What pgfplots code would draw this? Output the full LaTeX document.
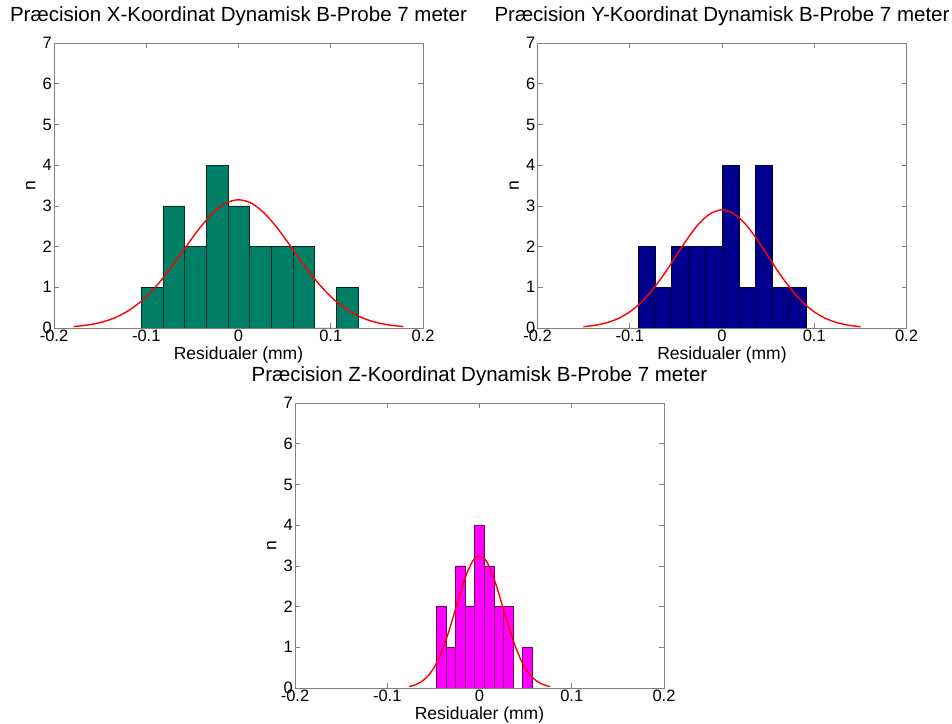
\documentclass[border=0pt]{standalone}
\usepackage{fontspec}
\setmainfont{Liberation Sans}
\usepackage{pgfplots}
\pgfplotsset{compat=1.18}

\definecolor{histX}{RGB}{0,126,102}
\definecolor{histY}{RGB}{0,0,140}
\definecolor{histZ}{RGB}{255,0,255}
\definecolor{frame}{RGB}{128,128,128}

\pgfplotsset{
  histo/.style={
    scale only axis,
    width=369bp, height=285bp,
    anchor=south west,
    xmin=-0.2, xmax=0.2, ymin=0, ymax=7,
    xtick={-0.2,-0.1,0,0.1,0.2},
    ytick={0,1,2,3,4,5,6,7},
    axis line style={frame, line width=0.6bp},
    tick style={frame, line width=0.6bp},
    major tick length=5bp,
    tick align=inside,
    /pgf/number format/assume math mode=true,
    ticklabel style={font=\fontsize{16.5bp}{18bp}\selectfont, inner sep=2bp},
    title style={font=\fontsize{20.5bp}{24bp}\selectfont, at={(0.5,1)}, anchor=base, yshift=16bp},
    xlabel style={font=\fontsize{17.5bp}{20bp}\selectfont, at={(axis description cs:0.5,-0.094)}, anchor=center},
    ylabel style={font=\fontsize{17.5bp}{20bp}\selectfont, at={(axis description cs:-0.063,0.5)}, anchor=center},
    xlabel={Residualer (mm)},
    ylabel={n},
  },
  fitcurve/.style={red, line width=1.4bp, smooth, no marks},
}

\begin{document}
\begin{tikzpicture}
\path[use as bounding box] (0,0) rectangle (952bp,724bp);

% X coordinate residuals
\begin{axis}[histo, at={(54bp,396bp)},
  title={Præcision X-Koordinat Dynamisk B-Probe 7 meter}]
\addplot[ybar interval, fill=histX, draw=black!65!histX, line width=0.5bp] coordinates {
  (-0.1054,1) (-0.0819,3) (-0.0584,2) (-0.0350,4) (-0.0115,3)
  (0.0120,2) (0.0355,2) (0.0590,2) (0.0824,0) (0.1059,1) (0.1294,0)
};
\addplot[fitcurve] coordinates {
  (-0.1788,0.0350) (-0.1639,0.0718) (-0.1490,0.1383) (-0.1341,0.2507)
  (-0.1192,0.4262) (-0.1043,0.6813) (-0.0894,1.0228) (-0.0745,1.4421)
  (-0.0596,1.9105) (-0.0447,2.3776) (-0.0298,2.7799) (-0.0149,3.0530)
  (0,3.15)
  (0.0149,3.0530) (0.0298,2.7799) (0.0447,2.3776) (0.0596,1.9105)
  (0.0745,1.4421) (0.0894,1.0228) (0.1043,0.6813) (0.1192,0.4262)
  (0.1341,0.2507) (0.1490,0.1383) (0.1639,0.0718) (0.1788,0.0350)
};
\end{axis}

% Y coordinate residuals
\begin{axis}[histo, at={(537.5bp,396bp)},
  title={Præcision Y-Koordinat Dynamisk B-Probe 7 meter}]
\addplot[ybar interval, fill=histY, draw=black!60!histY, line width=0.5bp] coordinates {
  (-0.0909,2) (-0.0727,1) (-0.0545,2) (-0.0363,2) (-0.0181,2)
  (0.0001,4) (0.0183,1) (0.0365,4) (0.0547,1) (0.0729,1) (0.0911,0)
};
\addplot[fitcurve] coordinates {
  (-0.1503,0.0322) (-0.1378,0.0661) (-0.1253,0.1273) (-0.1127,0.2308)
  (-0.1002,0.3924) (-0.0877,0.6273) (-0.0752,0.9416) (-0.0626,1.3276)
  (-0.0501,1.7589) (-0.0376,2.1889) (-0.0251,2.5593) (-0.0125,2.8107)
  (0,2.90)
  (0.0125,2.8107) (0.0251,2.5593) (0.0376,2.1889) (0.0501,1.7589)
  (0.0626,1.3276) (0.0752,0.9416) (0.0877,0.6273) (0.1002,0.3924)
  (0.1127,0.2308) (0.1253,0.1273) (0.1378,0.0661) (0.1503,0.0322)
};
\end{axis}

% Z coordinate residuals
\begin{axis}[histo, at={(295bp,36bp)},
  title={Præcision Z-Koordinat Dynamisk B-Probe 7 meter}]
\addplot[ybar interval, fill=histZ, draw=black!55!histZ, line width=0.5bp] coordinates {
  (-0.0468,2) (-0.0364,1) (-0.0260,3) (-0.0156,2) (-0.0052,4)
  (0.0052,3) (0.0156,2) (0.0260,2) (0.0364,0) (0.0468,1) (0.0572,0)
};
\addplot[fitcurve] coordinates {
  (-0.0765,0.0361) (-0.0701,0.0741) (-0.0638,0.1427) (-0.0574,0.2587)
  (-0.0510,0.4397) (-0.0446,0.7030) (-0.0383,1.0553) (-0.0319,1.4879)
  (-0.0255,1.9711) (-0.0191,2.4531) (-0.0128,2.8681) (-0.0064,3.1499)
  (0,3.25)
  (0.0064,3.1499) (0.0128,2.8681) (0.0191,2.4531) (0.0255,1.9711)
  (0.0319,1.4879) (0.0383,1.0553) (0.0446,0.7030) (0.0510,0.4397)
  (0.0574,0.2587) (0.0638,0.1427) (0.0701,0.0741) (0.0765,0.0361)
};
\end{axis}
\end{tikzpicture}
\end{document}
